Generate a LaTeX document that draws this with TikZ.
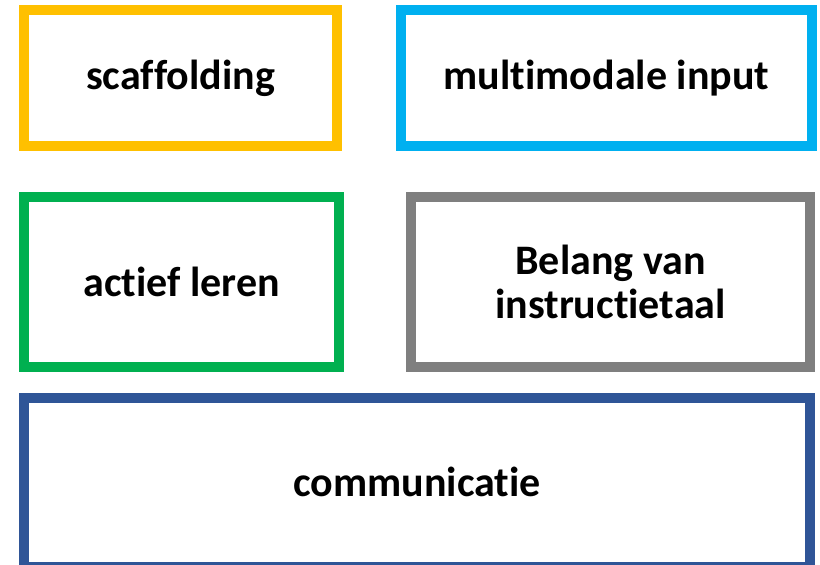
\documentclass[tikz,border=0pt]{standalone}
\usepackage{fontspec}
\setmainfont{Carlito}[Ligatures=NoCommon]
\definecolor{geel}{HTML}{FFC000}
\definecolor{lichtblauw}{HTML}{00B0F0}
\definecolor{groen}{HTML}{00B050}
\definecolor{grijs}{HTML}{7F7F7F}
\definecolor{donkerblauw}{HTML}{2F5597}
\begin{document}
\begin{tikzpicture}[x=1pt,y=-1pt,box/.style={rectangle,draw,line width=10pt,align=center,inner sep=0pt,font=\fontsize{42}{44}\selectfont\bfseries}]
 \useasboundingbox (0,0) rectangle (820,565);
 % 5 boxes
 \node[box,draw=geel,minimum width=313pt,minimum height=136pt] (scaf) at (180.5,78) {scaffolding};
 \node[box,draw=lichtblauw,minimum width=411pt,minimum height=136pt] (multi) at (606.5,78) {multimodale input};
 \node[box,draw=groen,minimum width=315pt,minimum height=170pt] (actief) at (181.5,282) {actief leren};
 \node[box,draw=grijs,minimum width=399pt,minimum height=170pt] (belang) at (610.5,282) {Belang van\\instructietaal};
 \node[box,draw=donkerblauw,minimum width=786pt,minimum height=169pt] (comm) at (417,482) {communicatie};
\end{tikzpicture}
\end{document}
